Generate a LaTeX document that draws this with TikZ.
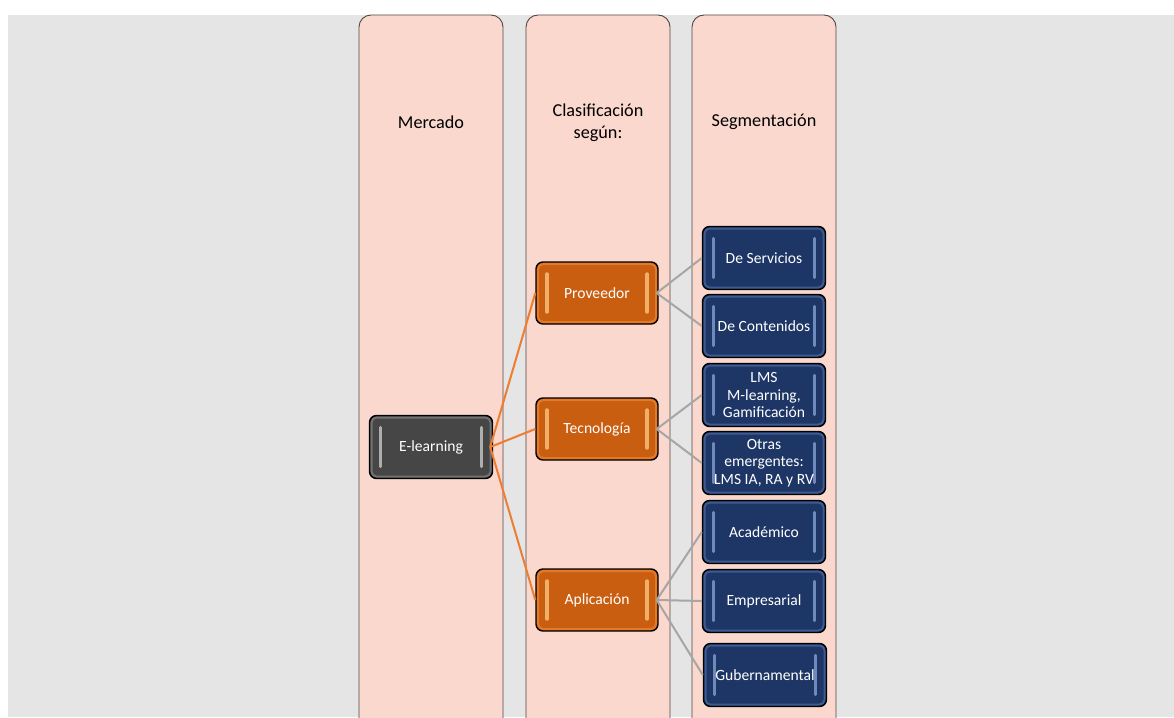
\documentclass[tikz,border=0pt]{standalone}
\usepackage{fontspec}
\setmainfont{Carlito}
\definecolor{pagegray}{RGB}{229,229,229}
\definecolor{colfill}{RGB}{250,216,205}
\definecolor{colborder}{RGB}{80,70,68}
\definecolor{darkbox}{RGB}{70,70,70}
\definecolor{darkhi}{RGB}{200,200,200}
\definecolor{darkrim}{RGB}{125,125,125}
\definecolor{orangebox}{RGB}{202,94,16}
\definecolor{orangehi}{RGB}{253,196,125}
\definecolor{orangerim}{RGB}{232,130,50}
\definecolor{bluebox}{RGB}{30,54,102}
\definecolor{bluehi}{RGB}{130,158,210}
\definecolor{bluerim}{RGB}{70,100,155}
\definecolor{orangeline}{RGB}{237,125,49}
\definecolor{grayline}{RGB}{166,166,166}
\tikzset{
  column/.style={draw=colborder, line width=0.9pt, fill=colfill, rounded corners=12pt},
  header/.style={text=black, align=center, font=\fontsize{18.2}{22}\selectfont},
  glossy/.style={draw=black, line width=1.4pt, rounded corners=7pt, fill=#1box,
    text=white, align=center, minimum width=123pt, minimum height=63pt,
    inner sep=2pt, font=\fontsize{15.6}{17.5}\selectfont,
    path picture={
      % bevel just inside the outline
      \draw[#1rim, line width=2pt, rounded corners=5pt, opacity=0.8]
        ([xshift=2pt,yshift=-2pt]path picture bounding box.north west) rectangle
        ([xshift=-2pt,yshift=2pt]path picture bounding box.south east);
      % vertical gloss bars
      \draw[#1hi, line width=3.4pt, line cap=round, opacity=0.8]
        ([xshift=11pt,yshift=-12pt]path picture bounding box.north west) --
        ([xshift=11pt,yshift=12pt]path picture bounding box.south west);
      \draw[#1hi, line width=3.4pt, line cap=round, opacity=0.8]
        ([xshift=-11pt,yshift=-12pt]path picture bounding box.north east) --
        ([xshift=-11pt,yshift=12pt]path picture bounding box.south east);
    }},
  darknode/.style={glossy=dark},
  orangenode/.style={glossy=orange, minimum width=122pt, minimum height=62pt},
  bluenode/.style={glossy=blue},
  mainlink/.style={draw=orangeline, line width=2pt},
  sublink/.style={draw=grayline, line width=2pt},
}
\begin{document}
\begin{tikzpicture}[x=1pt,y=-1pt]
  \useasboundingbox (0,0) rectangle (1174,717);
  \clip (0,0) rectangle (1174,717);
  % page background
  \fill[pagegray] (8,15) rectangle (1174,717);
  % the three columns
  \path[column] (359,15) rectangle (503,745);
  \path[column] (526,15) rectangle (670,745);
  \path[column] (692,15) rectangle (836,745);
  % column headers
  \node[header] (hmercado) at (431,122) {Mercado};
  \node[header] (hclasif) at (598,123) {Clasificación\\según:};
  \node[header] (hsegm) at (764,122) {Segmentación};
  % market
  \node[darknode] (elearn) at (431,447) {E-learning};
  % classification
  \node[orangenode] (prov) at (597,293) {Proveedor};
  \node[orangenode] (tecn) at (597,429) {Tecnología};
  \node[orangenode] (aplic) at (597,600) {Aplicación};
  % segments
  \node[bluenode] (serv) at (764,258) {De Servicios};
  \node[bluenode] (cont) at (764,326) {De Contenidos};
  \node[bluenode] (lms) at (764,395) {LMS\\M-learning,\\Gamificación};
  \node[bluenode] (otras) at (764,463) {Otras\\emergentes:\\LMS IA, RA y RV};
  \node[bluenode] (acad) at (764,532) {Académico};
  \node[bluenode] (empr) at (764,601) {Empresarial};
  \node[bluenode] (gob) at (765,675) {Gubernamental};
  % connectors
  \foreach \t in {prov,tecn,aplic}
    \draw[mainlink] ([xshift=-3pt]elearn.east) -- (\t.west);
  \foreach \t in {serv,cont}
    \draw[sublink] ([xshift=-2pt]prov.east) -- (\t.west);
  \foreach \t in {lms,otras}
    \draw[sublink] ([xshift=-2pt]tecn.east) -- (\t.west);
  \foreach \t in {acad,empr,gob}
    \draw[sublink] ([xshift=-2pt]aplic.east) -- (\t.west);
\end{tikzpicture}
\end{document}
